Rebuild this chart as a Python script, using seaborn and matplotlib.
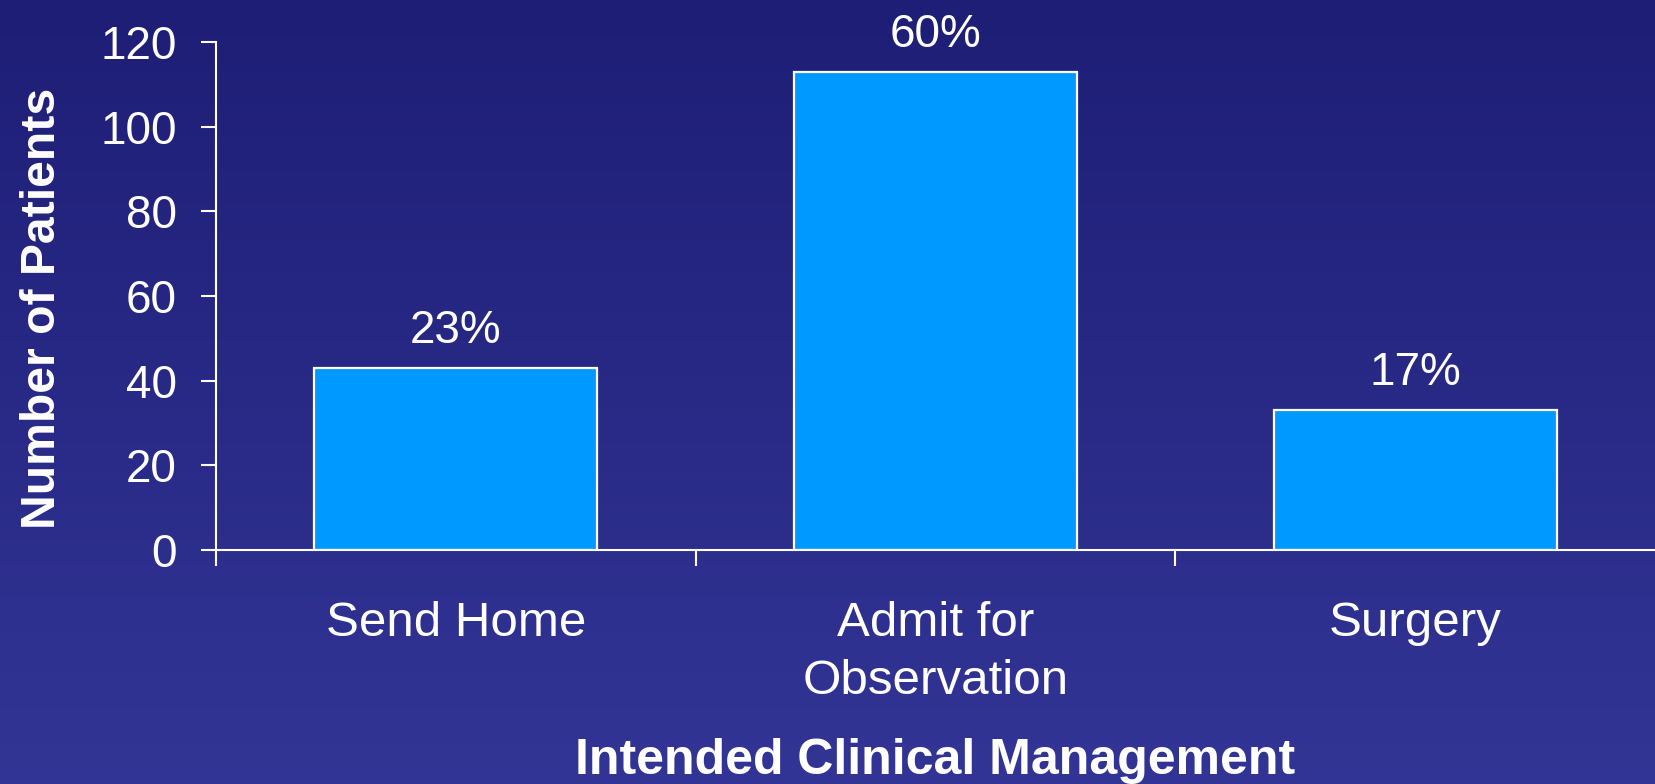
import numpy as np
import pandas as pd
import seaborn as sns
import matplotlib.pyplot as plt
from matplotlib.ticker import FixedLocator

# data
categories = ["Send Home", "Admit for\nObservation", "Surgery"]
patients = [43, 113, 33]
percent_labels = ["23%", "60%", "17%"]
y_ticks = [0, 20, 40, 60, 80, 100, 120]

sns.set_style("white")
plt.rcParams['font.family'] = ['Liberation Sans', 'DejaVu Sans']

fig = plt.figure(figsize=(16.55, 7.84), dpi=100)

# gradient background (dark navy at top -> lighter blue-purple at bottom)
bg = fig.add_axes([0, 0, 1, 1], zorder=-1)
top = np.array([30, 30, 118]) / 255
bottom = np.array([51, 53, 150]) / 255
t = np.linspace(0, 1, 256)[:, None]
grad = top[None, :] * (1 - t) + bottom[None, :] * t
bg.imshow(grad[:, None, :], aspect='auto', extent=[0, 1, 0, 1])
bg.axis('off')

ax = fig.add_axes([0.1305, 0.2985, 0.8695, 0.648])
ax.set_facecolor('none')

df = pd.DataFrame({"cat": categories, "n": patients})
sns.barplot(data=df, x="cat", y="n", color="#0099ff", saturation=1,
            edgecolor="white", linewidth=1.6, width=0.59, ax=ax)

for i, (v, lab) in enumerate(zip(patients, percent_labels)):
    ax.text(i, v + 5.9, lab, ha='center', va='baseline', color='white', fontsize=33)

ax.set_xlim(-0.5, 2.5)
ax.set_ylim(0, 120)
ax.set_yticks(y_ticks)
ax.xaxis.set_minor_locator(FixedLocator([-0.5, 0.5, 1.5]))
ax.tick_params(axis='x', which='major', length=0, pad=37, labelsize=35.5, colors='white')
ax.tick_params(axis='x', which='minor', length=11.5, width=1.5, color='white', direction='out')
ax.tick_params(axis='y', length=11, width=1.5, color='white', labelsize=33,
               labelcolor='white', direction='out', pad=17)
ax.xaxis.set_ticks_position('bottom')
ax.yaxis.set_ticks_position('left')

for s in ['top', 'right']:
    ax.spines[s].set_visible(False)
for s in ['left', 'bottom']:
    ax.spines[s].set_color('white')
    ax.spines[s].set_linewidth(1.5)

ax.set_xlabel("Intended Clinical Management", fontsize=36, fontweight='bold',
              color='white', va='baseline')
ax.xaxis.set_label_coords(0.5, -0.441)
ax.set_ylabel("Number of Patients", fontsize=34.7, fontweight='bold',
              color='white', va='baseline')
ax.yaxis.set_label_coords(-0.112, 0.475)
for lbl in ax.get_xticklabels():
    lbl.set_linespacing(1.36)

fig.savefig("out.png", dpi=100)
